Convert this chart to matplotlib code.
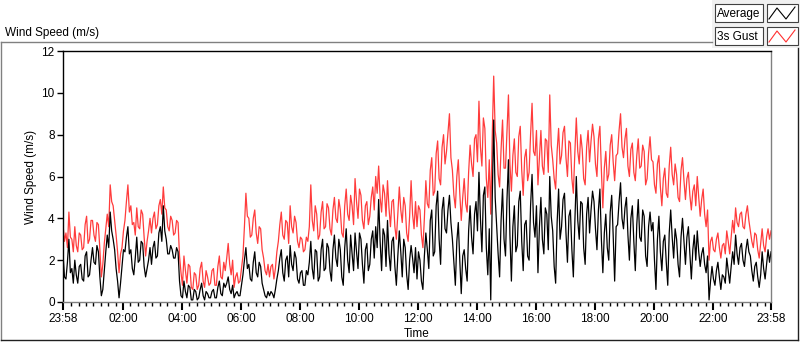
import numpy as np
import matplotlib
matplotlib.use('Agg')
import matplotlib.pyplot as plt
from matplotlib.lines import Line2D
from matplotlib.patches import Rectangle

plt.rcParams['font.family'] = ['Liberation Sans', 'DejaVu Sans']
plt.rcParams['font.size'] = 8

# wind speed (m/s), one value every 3 minutes starting 23:58, one row per hour
gust = [
    3.7, 2.9, 3.3, 2.6, 4.3, 3.1, 3.0, 2.4, 3.6, 2.7, 2.4, 3.3, 3.2, 2.5, 2.6, 3.7, 4.1, 2.8, 3.0, 3.9,
    3.9, 3.2, 2.9, 3.8, 3.7, 2.5, 1.2, 1.8, 2.8, 3.5, 4.2, 3.6, 5.6, 4.8, 4.6, 3.9, 3.2, 2.4, 1.4, 2.3,
    2.6, 3.4, 3.9, 4.8, 5.6, 4.3, 4.6, 3.7, 3.8, 3.2, 4.5, 3.6, 3.5, 4.4, 4.2, 3.1, 2.2, 2.9, 3.4, 4.0,
    3.3, 4.0, 4.3, 3.5, 3.7, 4.6, 4.9, 4.2, 5.5, 4.5, 4.4, 3.6, 3.4, 4.1, 3.9, 3.2, 3.3, 3.9, 3.8, 2.2,
    1.4, 0.8, 2.2, 1.5, 0.9, 1.8, 1.7, 0.7, 0.6, 1.4, 1.3, 0.6, 0.8, 1.6, 1.9, 1.0, 0.7, 1.5, 1.2, 0.8,
    0.9, 1.5, 1.6, 0.8, 0.8, 1.7, 2.2, 1.2, 1.1, 1.9, 1.5, 2.1, 2.8, 1.8, 1.3, 2.0, 0.7, 1.2, 1.4, 0.9,
    1.0, 1.6, 2.2, 3.6, 5.2, 4.1, 4.0, 3.1, 3.2, 4.0, 4.4, 3.3, 2.8, 3.6, 3.5, 2.5, 2.1, 1.5, 1.3, 1.8,
    1.2, 1.7, 1.8, 1.1, 1.6, 2.4, 2.9, 3.7, 4.3, 3.2, 3.0, 3.9, 3.8, 2.8, 4.6, 3.6, 3.3, 4.1, 3.8, 2.9,
    2.6, 3.1, 3.0, 2.4, 2.5, 3.1, 2.9, 3.6, 5.6, 3.9, 3.4, 4.6, 4.2, 3.0, 3.2, 4.3, 4.8, 3.5, 3.6, 4.7,
    4.5, 3.5, 3.2, 4.4, 5.0, 4.0, 3.8, 4.9, 4.4, 3.3, 3.1, 4.6, 5.4, 4.2, 3.9, 5.1, 4.6, 3.7, 5.9, 4.8,
    4.0, 5.4, 5.1, 3.9, 3.5, 4.6, 4.8, 3.7, 4.1, 5.0, 5.5, 4.4, 6.0, 5.2, 6.5, 5.0, 4.3, 5.6, 5.2, 4.1,
    5.8, 4.5, 3.6, 4.8, 4.9, 3.6, 3.0, 4.2, 5.5, 4.4, 3.8, 5.0, 4.6, 3.3, 2.9, 4.1, 5.8, 4.2, 3.5, 4.8,
    3.6, 4.6, 4.4, 3.2, 2.6, 4.0, 5.8, 4.7, 4.5, 6.3, 6.9, 5.1, 5.3, 7.1, 7.7, 5.9, 5.6, 7.4, 8.0, 6.6,
    7.2, 8.1, 9.0, 6.9, 6.3, 5.1, 4.5, 6.0, 6.8, 5.2, 3.9, 5.0, 5.9, 4.7, 4.3, 6.2, 7.5, 6.6, 6.0, 7.8,
    8.0, 6.7, 9.6, 7.4, 6.5, 8.8, 8.3, 5.9, 5.0, 6.8, 4.2, 7.9, 10.8, 8.2, 7.6, 6.1, 5.5, 7.3, 8.7, 6.4,
    6.4, 8.1, 9.9, 6.6, 5.3, 7.0, 7.8, 6.2, 6.0, 7.9, 8.4, 6.3, 5.1, 6.9, 7.3, 5.8, 6.2, 8.0, 9.5, 7.2,
    7.0, 8.2, 5.6, 6.9, 8.2, 6.5, 6.1, 7.8, 7.7, 6.2, 9.9, 7.5, 6.8, 5.9, 5.4, 7.2, 8.3, 6.6, 7.0, 8.1,
    8.4, 6.9, 6.0, 7.7, 7.6, 5.9, 5.2, 7.1, 8.8, 7.2, 6.6, 8.0, 7.3, 5.9, 5.6, 7.4, 8.2, 6.7, 7.7, 8.5,
    7.9, 6.6, 6.0, 7.8, 8.4, 6.3, 4.5, 6.4, 7.2, 5.8, 6.1, 7.5, 8.0, 6.7, 5.8, 7.0, 7.1, 8.2, 9.0, 7.4,
    6.9, 7.8, 8.3, 6.5, 6.0, 7.3, 7.6, 6.2, 5.8, 7.0, 7.8, 6.4, 6.5, 7.5, 7.2, 5.6, 5.9, 7.1, 7.9, 6.8,
    6.7, 5.6, 5.2, 6.6, 7.0, 5.5, 4.6, 5.9, 6.4, 5.2, 5.0, 6.5, 7.4, 6.1, 5.6, 6.6, 6.1, 5.0, 4.8, 6.3,
    6.9, 5.8, 4.9, 5.9, 6.2, 5.1, 4.4, 5.3, 5.6, 4.6, 6.0, 5.0, 4.1, 4.9, 5.4, 4.2, 3.6, 4.4, 2.0, 2.9,
    3.1, 2.5, 2.4, 3.0, 3.3, 2.6, 2.1, 2.7, 2.8, 2.3, 3.4, 2.9, 2.3, 3.1, 3.9, 3.3, 4.5, 3.8, 3.6, 4.2,
    4.3, 3.6, 3.5, 4.2, 4.6, 3.9, 3.4, 2.9, 2.6, 3.3, 3.2, 2.5, 2.1, 2.8, 3.5, 2.7, 2.4, 3.1, 3.5, 3.0, 3.4,
]

average = [
    2.3, 1.2, 1.1, 1.9, 3.0, 1.4, 1.6, 0.9, 2.0, 1.3, 0.9, 1.7, 1.8, 1.1, 1.0, 2.2, 2.4, 1.2, 1.3, 2.0,
    2.6, 1.9, 1.8, 2.7, 2.4, 1.2, 0.3, 0.6, 1.5, 2.4, 3.2, 2.6, 4.3, 3.4, 3.0, 2.5, 1.6, 1.0, 0.2, 0.9,
    1.7, 2.5, 2.4, 3.1, 3.6, 2.3, 2.5, 1.6, 1.3, 2.1, 3.1, 1.9, 2.0, 2.9, 2.8, 1.7, 1.2, 1.6, 2.0, 2.6,
    1.8, 2.6, 2.9, 2.1, 2.2, 3.3, 3.6, 2.9, 4.6, 3.4, 3.0, 2.3, 2.3, 2.7, 2.5, 2.1, 2.1, 2.6, 2.4, 1.0,
    0.3, 0.2, 1.0, 0.5, 0.2, 0.8, 0.7, 0.1, 0.1, 0.6, 0.5, 0.1, 0.2, 0.6, 0.9, 0.3, 0.1, 0.5, 0.4, 0.2,
    0.2, 0.5, 0.6, 0.2, 0.2, 0.7, 1.0, 0.4, 0.3, 0.9, 0.7, 0.9, 1.2, 0.6, 0.4, 0.8, 0.2, 0.4, 0.5, 0.3,
    0.3, 0.8, 1.3, 2.0, 2.6, 1.6, 1.8, 1.1, 1.0, 1.9, 2.4, 1.4, 1.2, 1.9, 1.7, 0.9, 0.6, 0.3, 0.2, 0.5,
    0.3, 0.5, 0.4, 0.2, 0.6, 1.1, 1.5, 2.1, 2.5, 1.4, 1.0, 2.0, 2.2, 1.2, 2.7, 1.8, 1.5, 2.4, 2.1, 1.1,
    0.9, 1.4, 1.5, 0.8, 0.8, 1.5, 1.3, 1.9, 2.9, 1.6, 1.1, 2.5, 2.4, 1.0, 1.2, 2.5, 3.0, 1.5, 1.6, 2.8,
    2.6, 1.5, 1.0, 2.5, 3.2, 2.1, 1.7, 3.0, 2.5, 1.2, 0.8, 2.6, 3.5, 2.0, 1.4, 3.2, 2.3, 1.5, 3.3, 2.4,
    1.6, 3.3, 3.0, 1.8, 0.9, 2.5, 2.8, 1.5, 1.8, 3.0, 3.4, 2.1, 3.6, 2.6, 4.9, 2.9, 1.5, 3.5, 3.2, 1.7,
    3.9, 2.3, 1.5, 2.9, 3.1, 1.7, 0.8, 2.2, 3.4, 2.4, 1.2, 3.0, 2.6, 1.3, 0.6, 2.0, 2.7, 2.1, 1.4, 2.6,
    1.1, 2.4, 2.0, 1.0, 0.6, 2.2, 3.3, 2.5, 1.6, 3.9, 4.4, 2.2, 2.4, 4.6, 5.3, 3.0, 1.8, 4.4, 5.0, 3.5,
    3.3, 4.4, 5.1, 3.8, 3.0, 1.9, 0.8, 2.9, 3.8, 2.0, 0.4, 2.2, 2.5, 1.6, 1.0, 3.4, 4.6, 3.1, 2.3, 4.2,
    4.8, 3.4, 6.2, 4.0, 2.4, 5.1, 5.5, 2.6, 1.3, 3.5, 0.1, 4.9, 8.7, 5.0, 3.6, 2.3, 1.2, 3.9, 5.4, 3.0,
    2.2, 4.9, 6.8, 3.2, 1.0, 3.6, 4.6, 2.4, 2.7, 4.8, 5.3, 2.9, 1.5, 3.7, 3.9, 2.2, 2.0, 4.6, 6.1, 3.8,
    3.1, 4.6, 1.4, 3.6, 5.0, 3.0, 2.3, 4.5, 4.2, 2.5, 6.0, 4.1, 3.4, 1.7, 0.9, 3.8, 5.4, 3.0, 3.6, 4.9,
    5.2, 3.3, 1.9, 4.1, 4.4, 2.5, 1.2, 3.8, 6.0, 3.9, 3.0, 4.8, 4.7, 2.6, 1.8, 4.2, 5.0, 3.3, 4.4, 5.3,
    4.8, 3.5, 2.5, 4.4, 5.4, 3.0, 1.4, 3.3, 4.2, 2.6, 2.0, 4.3, 5.1, 3.2, 1.0, 3.6, 3.7, 4.8, 5.7, 4.0,
    3.5, 4.5, 5.0, 3.2, 2.0, 4.0, 4.6, 2.9, 1.5, 3.7, 4.9, 3.1, 2.9, 4.4, 4.1, 2.2, 1.7, 3.6, 4.3, 3.4,
    3.8, 2.0, 0.6, 3.0, 4.1, 2.4, 1.5, 2.9, 3.2, 1.9, 0.8, 3.3, 4.4, 3.1, 2.1, 3.5, 3.0, 1.8, 1.2, 3.1,
    4.0, 2.9, 1.8, 3.1, 3.6, 2.3, 1.1, 2.5, 3.2, 2.0, 3.4, 2.4, 1.7, 2.3, 2.6, 1.8, 1.4, 2.2, 0.1, 1.0,
    1.7, 1.1, 0.8, 1.5, 1.9, 1.2, 0.6, 1.3, 1.2, 0.9, 2.1, 1.5, 0.9, 1.7, 2.4, 1.8, 3.2, 2.3, 1.8, 2.6,
    2.8, 2.0, 1.7, 2.5, 3.0, 2.4, 2.2, 1.5, 1.0, 1.7, 1.9, 1.2, 0.7, 1.3, 2.4, 1.6, 1.1, 1.8, 2.5, 1.9, 2.4,
]

tick_labels = ['23:58', '02:00', '04:00', '06:00', '08:00', '10:00', '12:00',
               '14:00', '16:00', '18:00', '20:00', '22:00', '23:58']

W, H = 800, 342


def fx(x):
    return x / W


def fy(y):
    return 1 - y / H


fig = plt.figure(figsize=(8, 3.42), dpi=100)

# outer frame (sunken look)
fig.add_artist(Line2D([fx(1), fx(712)], [fy(42), fy(42)], color='#808080', lw=1))
fig.add_artist(Line2D([fx(1), fx(1)], [fy(42), fy(340)], color='#808080', lw=1))
fig.add_artist(Line2D([fx(1), fx(798)], [fy(340), fy(340)], color='#202020', lw=1))
fig.add_artist(Line2D([fx(798), fx(798)], [fy(48), fy(340)], color='#202020', lw=1))

# legend panel
fig.add_artist(Rectangle((fx(712), fy(48)), fx(88), 48 / H, facecolor='#f0f0f0',
                         edgecolor='none'))
for y0, name, col in [(4, 'Average', 'black'), (27, '3s Gust', '#ff3030')]:
    fig.add_artist(Rectangle((fx(715), fy(y0 + 18)), fx(48), 18 / H, facecolor='white',
                             edgecolor='#404040', lw=0.8))
    fig.add_artist(Rectangle((fx(767), fy(y0 + 18)), fx(31), 18 / H, facecolor='white',
                             edgecolor='#404040', lw=0.8))
    fig.text(fx(717), fy(y0 + 9.5), name, ha='left', va='center', fontsize=8.5)
    fig.add_artist(Line2D([fx(769), fx(777), fx(786), fx(795)],
                          [fy(y0 + 15), fy(y0 + 4), fy(y0 + 15), fy(y0 + 3)], color=col, lw=0.8))

fig.text(fx(5), fy(33), 'Wind Speed (m/s)', ha='left', va='center', fontsize=8.5)

ax = fig.add_axes([fx(63), fy(302), fx(771 - 63), (302 - 51) / H])
ax.plot(np.linspace(0, 24, len(gust)), gust, color='#ff3c3c', lw=0.9)
ax.plot(np.linspace(0, 24, len(average)), average, color='black', lw=0.9)

ax.set_xlim(0, 24)
ax.set_ylim(0, 12)
ax.set_yticks(range(0, 13, 2))
major = [0] + [h + 2 / 60 for h in range(2, 24, 2)] + [24]
ax.set_xticks(major)
ax.set_xticklabels(tick_labels)
minor = [q / 4 + 2 / 60 for q in range(1, 96) if q % 8 != 0]
ax.set_xticks(minor, minor=True)

ax.tick_params(axis='both', which='major', length=4, width=1, labelsize=8.5, pad=2)
ax.tick_params(axis='x', which='minor', length=3, width=1)
ax.tick_params(axis='x', which='major', length=6, width=1.5)

ax.spines['top'].set_color('black')
ax.spines['left'].set_color('black')
ax.spines['right'].set_color('#808080')
ax.spines['bottom'].set_color('#808080')
for s in ax.spines.values():
    s.set_linewidth(1)

ax.set_xlabel('Time', fontsize=8.5, labelpad=2)
ax.set_ylabel('Wind Speed (m/s)', fontsize=8.5, labelpad=3)

fig.savefig('out.png', dpi=100)
